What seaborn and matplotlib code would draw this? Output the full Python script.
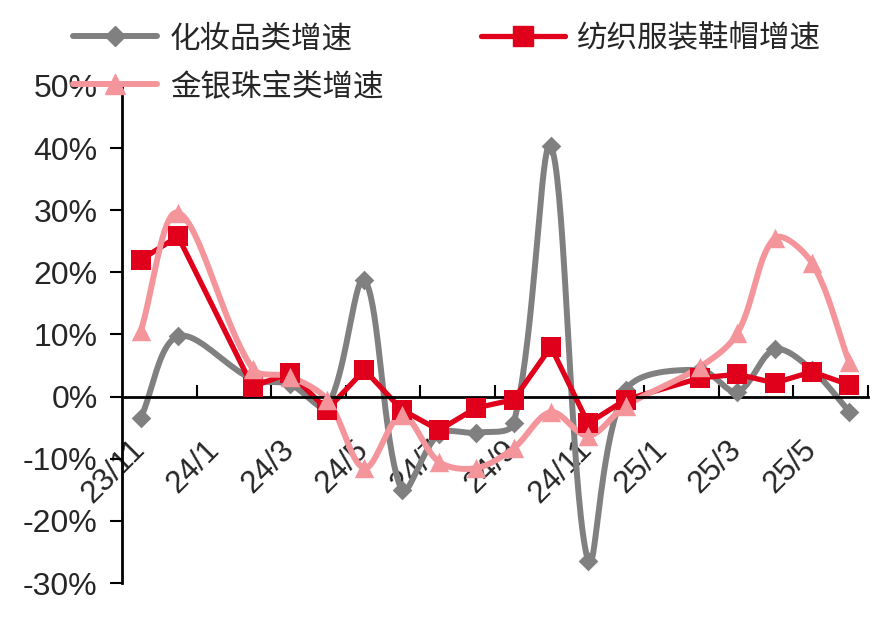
import numpy as np
import pandas as pd
import matplotlib
matplotlib.use("Agg")
import matplotlib.pyplot as plt
from matplotlib.lines import Line2D
from matplotlib.ticker import FuncFormatter
from matplotlib.transforms import ScaledTranslation
import seaborn as sns

# ---- data (percent) ----
categories = ['23/11', '23/12', '24/1', '24/2', '24/3', '24/4', '24/5', '24/6', '24/7', '24/8',
              '24/9', '24/10', '24/11', '24/12', '25/1', '25/2', '25/3', '25/4', '25/5', '25/6']
nan = np.nan
cosmetics = [-3.5, 9.7, nan, 2.8, 2.0, -1.5, 18.8, -15.0, -6.0, -5.8,
             -4.3, 40.3, -26.5, 1.0, nan, 4.3, 0.8, 7.6, 4.3, -2.4]
textile = [22.0, 25.8, nan, 1.6, 3.8, -2.1, 4.3, -2.1, -5.4, -1.8,
           -0.5, 8.0, -4.3, -0.5, nan, 3.0, 3.6, 2.2, 4.0, 1.9]
jewelry = [10.5, 29.6, nan, 4.5, 3.2, -0.5, -11.5, -3.0, -10.5, -11.5,
           -8.3, -2.5, -6.3, -1.5, nan, 4.8, 10.2, 25.5, 21.5, 5.5]
labels = ['化妆品类增速', '纺织服装鞋帽增速', '金银珠宝类增速']
colors = ['#808080', '#E0001B', '#F4959C']

sns.set_theme(style="white")
plt.rcParams['font.family'] = ['Liberation Sans', 'Noto Sans CJK SC', 'DejaVu Sans']
plt.rcParams['axes.unicode_minus'] = False

fig = plt.figure(figsize=(8.92, 6.23), dpi=100)
ax = fig.add_axes([0.1368, 0.0642, 0.973 - 0.1368, 0.862 - 0.0642])

x_idx = np.arange(len(categories))
PX_X, PX_Y = 37.4, 6.21  # display scaling for smoothing


def smooth_curve(xs, ys, n=40):
    P = np.column_stack([xs * PX_X, ys * PX_Y])
    m = len(P)
    cin = P.copy()
    cout = P.copy()
    for i in range(m):
        pa = P[i - 1] if i > 0 else P[i]
        pb = P[i + 1] if i < m - 1 else P[i]
        d = pb - pa
        lin = np.linalg.norm(P[i] - pa)
        lout = np.linalg.norm(pb - P[i])
        tot = lin + lout
        if tot == 0:
            continue
        cout[i] = P[i] + d * (lout / tot) / 3.0
        cin[i] = P[i] - d * (lin / tot) / 3.0
    out = []
    t = np.linspace(0, 1, n)[:, None]
    for i in range(m - 1):
        p1, p2, c1, c2 = P[i], P[i + 1], cout[i], cin[i + 1]
        seg = (1 - t) ** 3 * p1 + 3 * (1 - t) ** 2 * t * c1 + 3 * (1 - t) * t ** 2 * c2 + t ** 3 * p2
        out.append(seg if i == 0 else seg[1:])
    C = np.vstack(out)
    return C[:, 0] / PX_X, C[:, 1] / PX_Y


series = [
    (cosmetics, colors[0], 'D', 10, 4.3, True),
    (textile, colors[1], 's', 15, 3.8, False),
    (jewelry, colors[2], '^', 14, 4.3, True),
]

for vals, col, mk, ms, lw, smooth in series:
    v = np.array(vals, dtype=float)
    ok = ~np.isnan(v)
    xs, ys = x_idx[ok].astype(float), v[ok]
    if smooth:
        cx, cy = smooth_curve(xs, ys)
    else:
        cx, cy = xs, ys
    dfl = pd.DataFrame({'x': cx, 'y': cy})
    sns.lineplot(data=dfl, x='x', y='y', sort=False, estimator=None, color=col,
                 linewidth=lw, ax=ax, solid_capstyle='round', solid_joinstyle='round')
    dfm = pd.DataFrame({'x': xs, 'y': ys})
    sns.scatterplot(data=dfm, x='x', y='y', marker=mk, s=ms ** 2, color=col,
                    edgecolor=col, linewidth=0, ax=ax, zorder=3)

ax.set_xlim(-0.5, 19.5)
ax.set_ylim(-30, 50)
ax.set_xlabel('')
ax.set_ylabel('')

ax.spines['top'].set_visible(False)
ax.spines['right'].set_visible(False)
ax.spines['bottom'].set_position(('data', 0))
for s in ['left', 'bottom']:
    ax.spines[s].set_linewidth(2)
    ax.spines[s].set_color('black')

ax.set_yticks(np.arange(-30, 51, 10))
ax.yaxis.set_major_formatter(FuncFormatter(lambda v, p: f"{v:.0f}%"))
ax.tick_params(axis='y', direction='out', length=8.5, width=1.5, color='black',
               labelsize=23, pad=9, left=True)

ax.set_xticks(x_idx[::2])
ax.set_xticklabels(categories[::2])
ax.set_xticks(np.arange(1.5, 20, 2), minor=True)
ax.tick_params(axis='x', which='major', length=0, pad=28, labelsize=22.5)
ax.tick_params(axis='x', which='minor', direction='in', length=8.5, width=1.5,
               color='black', bottom=True)
offset = ScaledTranslation(-11 / 100, 1 / 100, fig.dpi_scale_trans)
for lab in ax.get_xticklabels():
    lab.set_rotation(45)
    lab.set_ha('right')
    lab.set_va('top')
    lab.set_rotation_mode('anchor')
    lab.set_transform(lab.get_transform() + offset)

handles = [
    Line2D([], [], color=colors[0], lw=4.3, marker='D', ms=10, solid_capstyle='round'),
    Line2D([], [], color=colors[2], lw=4.3, marker='^', ms=14, solid_capstyle='round'),
    Line2D([], [], color=colors[1], lw=3.8, marker='s', ms=15, solid_capstyle='round'),
]
fig.legend(handles, [labels[0], labels[2], labels[1]], ncol=2, frameon=False,
           loc='upper left', bbox_to_anchor=(0.072, 0.976), fontsize=22,
           handlelength=2.75, handletextpad=0.4, columnspacing=3.2,
           labelspacing=0.58, borderpad=0.3, borderaxespad=0)

fig.savefig('out.png', dpi=100, facecolor='white')
